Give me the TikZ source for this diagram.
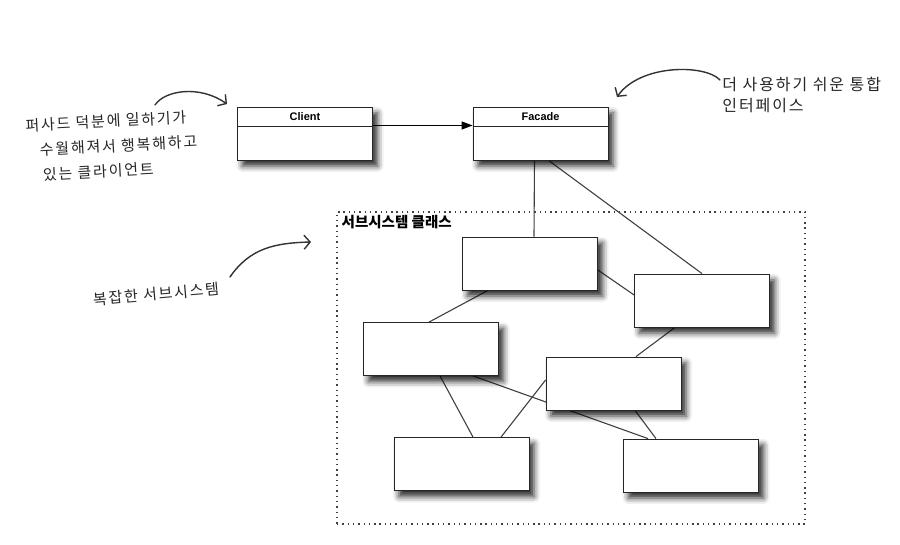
\documentclass[tikz,border=0pt]{standalone}
\usepackage{fontspec}
\setsansfont{Liberation Sans}
\newfontfamily\handfont[LetterSpace=12]{Noto Sans CJK KR}
\newfontfamily\kofont{Noto Sans CJK KR}
\usetikzlibrary{arrows.meta, positioning, calc, shadows.blur, backgrounds}

\begin{document}
\begin{tikzpicture}[
    x=1pt, y=-1pt,
    line width=0.8pt,
    font=\sffamily,
    classbox/.style={draw=black!85, fill=white, line width=0.8pt,
        minimum width=135pt, minimum height=53pt, inner sep=0pt,
        blur shadow={shadow xshift=5pt, shadow yshift=-6pt,
            shadow blur radius=6pt, shadow opacity=85}},
    classname/.style={font=\sffamily\bfseries\fontsize{11}{13}\selectfont},
    link/.style={draw=black!75, line width=1.1pt},
    note/.style={font=\handfont\fontsize{15}{25}\selectfont, text=black!85, inner sep=0pt},
    handarrow/.style={draw=black!80, line width=1.4pt, line cap=round,
        -{Straight Barb[length=6pt, width=14pt]}}
]

\useasboundingbox (0,0) rectangle (900,545);

% =========================================================
% TOP: client and facade
% =========================================================
\node[classbox] (client) at (305,133.5) {};
\node[classbox] (facade) at (540.5,133.5) {};

\draw[draw=black!85, line width=0.8pt] ([yshift=-20pt]client.north west) -- ([yshift=-20pt]client.north east);
\draw[draw=black!85, line width=0.8pt] ([yshift=-20pt]facade.north west) -- ([yshift=-20pt]facade.north east);

\node[classname] (clientname) at ([yshift=-10pt]client.north) {Client};
\node[classname] (facadename) at ([yshift=-10pt]facade.north) {Facade};

% association
\draw[-{Triangle[length=11pt, width=8pt]}, line width=1.2pt]
    ([yshift=8pt]client.east) -- ([yshift=8pt]facade.west);

% =========================================================
% BOTTOM: subsystem classes
% =========================================================
\node[draw=black!75, dash pattern=on 1.4pt off 3.9pt, line width=1.4pt,
    minimum width=468pt, minimum height=312pt, inner sep=0pt] (subsys) at (571,368) {};
\node[font=\kofont\bfseries\fontsize{14.5}{17}\selectfont, anchor=north west, inner sep=0pt]
    (subsyslabel) at ([xshift=5pt, yshift=-4pt]subsys.north west) {서브시스템 클래스};

\node[classbox] (sub1) at (530,263.5) {};
\node[classbox] (sub2) at (702,300.5) {};
\node[classbox] (sub3) at (431,349) {};
\node[classbox] (sub4) at (613.5,383.5) {};
\node[classbox] (sub5) at (461.5,464) {};
\node[classbox] (sub6) at (691,465.5) {};

% links
\begin{scope}[on background layer]
\draw[link] ([xshift=-6pt]facade.south) -- ([xshift=4pt]sub1.north);
\draw[link] ([xshift=8pt]facade.south) -- (sub2.north);
\draw[link] ([yshift=-6.5pt]sub1.east) -- ([yshift=5.5pt]sub2.west);
\draw[link] ([xshift=-42pt]sub1.south) -- ([xshift=-2pt]sub3.north);
\draw[link] ([xshift=-27pt]sub2.south) -- ([xshift=22.5pt]sub4.north);
\draw[link] ([xshift=9pt]sub3.south) -- ([xshift=11.5pt]sub5.north);
\draw[link] ([xshift=42pt]sub3.south) -- ([xshift=-43pt]sub6.north);
\draw[link] ([yshift=3.5pt]sub4.west) -- ([xshift=39.5pt]sub5.north);
\draw[link] ([xshift=21.5pt]sub4.south) -- ([xshift=-35pt]sub6.north);
\end{scope}

% =========================================================
% NOTES: handwritten remarks
% =========================================================
\node[note, rotate=3, align=left] (happynote) at (112,146)
    {퍼사드 덕분에 일하기가\\\hspace{13pt}수월해져서 행복해하고\\\hspace{15pt}있는 클라이언트};

\node[note, anchor=west, align=left, font=\handfont\fontsize{16}{21}\selectfont]
    (easynote) at (722,95) {더 사용하기 쉬운 통합\\인터페이스};

\node[note, rotate=5] (subnote) at (156,294) {복잡한 서브시스템};

% arrows
\coordinate (happytail) at (155,105);
\coordinate (happytip) at (227,104);
\draw[handarrow] (happytail) .. controls (165,90) and (200,85) .. (happytip);

\coordinate (easytail) at (720,80);
\coordinate (easytip) at (617,97);
\draw[handarrow] (easytail) .. controls (705,64) and (640,64) .. (easytip);

\coordinate (subtail) at (230,277);
\coordinate (subtip) at (311,242);
\draw[handarrow] (subtail) .. controls (250,248) and (275,243) .. (subtip);

\end{tikzpicture}
\end{document}
